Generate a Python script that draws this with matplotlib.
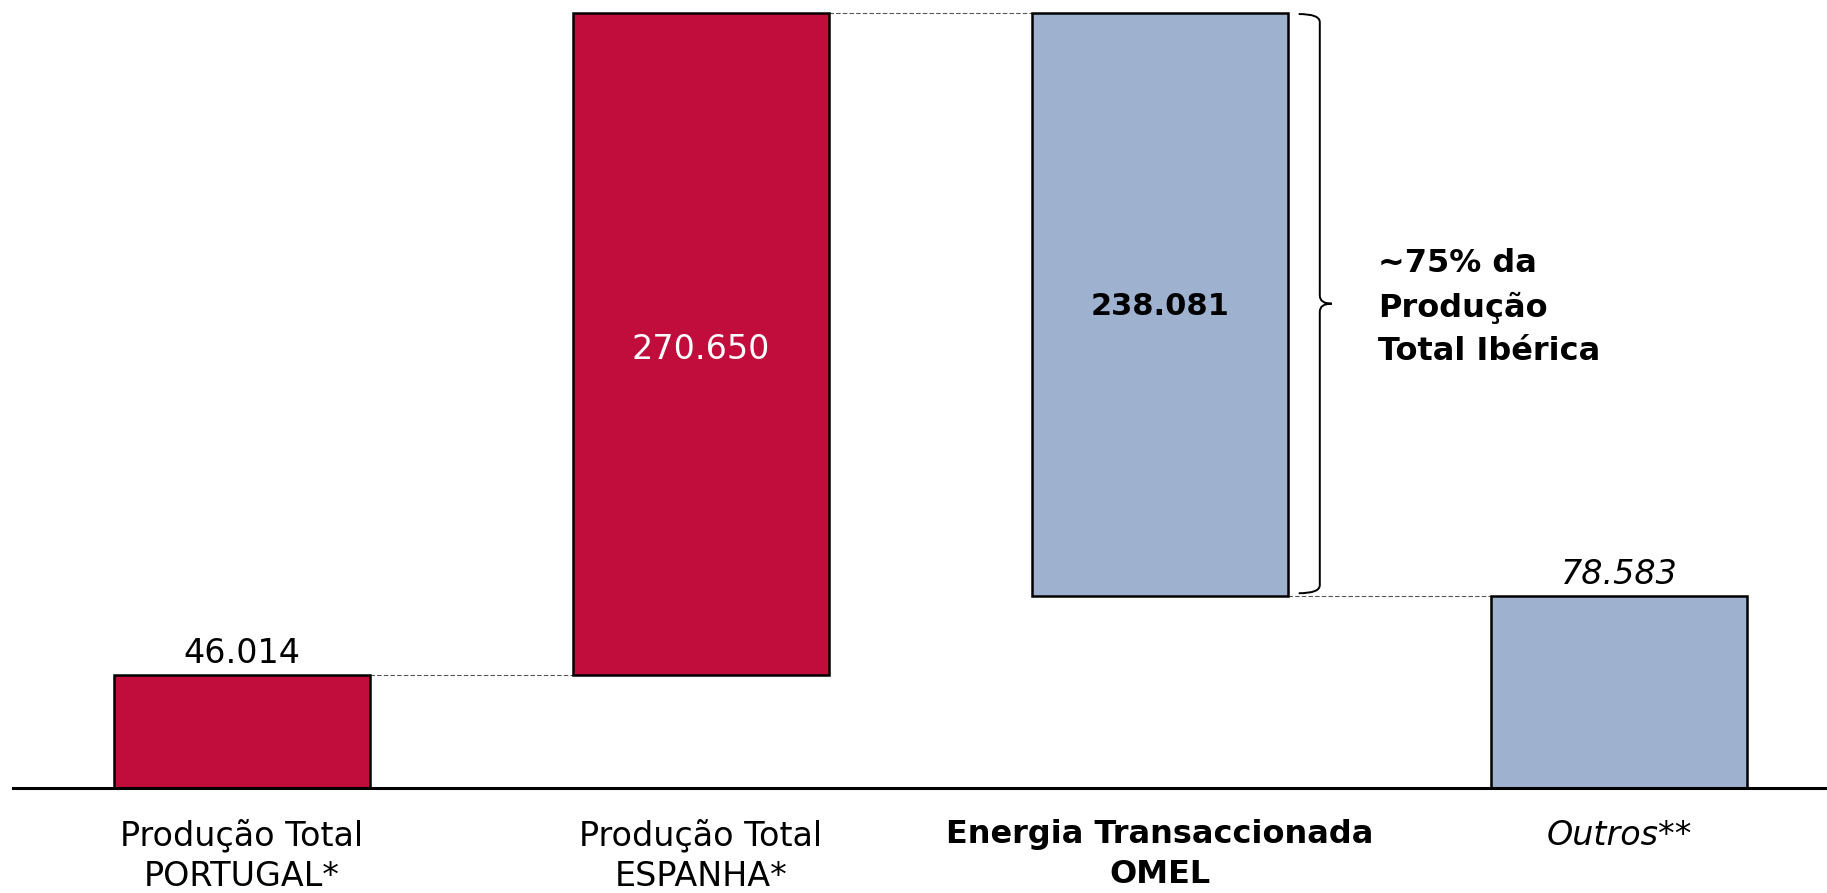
import matplotlib
matplotlib.use("Agg")
import matplotlib.pyplot as plt
from matplotlib.path import Path
from matplotlib.patches import PathPatch

# data (GWh)
categories = ["Produção Total\nPORTUGAL*", "Produção Total\nESPANHA*",
              "Energia Transaccionada\nOMEL", "Outros**"]
values = [46.014, 270.650, 238.081, 78.583]
value_labels = ["46.014", "270.650", "238.081", "78.583"]
note = "~75% da\nProdução\nTotal Ibérica"

RED = "#C00D3C"
BLUE = "#9EB1CF"
colors = [RED, RED, BLUE, BLUE]

plt.rcParams['font.family'] = ['DejaVu Sans']

total = values[0] + values[1]
bottoms = [0, values[0], total - values[2], 0]
tops = [b + v for b, v in zip(bottoms, values)]
xs = list(range(len(values)))
w = 0.556

fig = plt.figure(figsize=(18.27, 8.93), dpi=100)
ax = fig.add_axes([13 / 1827, 105 / 893, 1814 / 1827, 788 / 893])
ax.set_xlim(-0.499, 3.453)
ax.set_ylim(0, 322.0)

ax.bar(xs, values, bottom=bottoms, width=w, color=colors,
       edgecolor="black", linewidth=1.8, zorder=3)

# dashed connectors between bars
levels = [tops[0], tops[1], bottoms[2]]
for i, lvl in enumerate(levels):
    ax.plot([xs[i] + w / 2, xs[i + 1] - w / 2], [lvl, lvl], ls=(0, (4, 2)),
            color="#555555", lw=0.8, zorder=2)

for sp in ["top", "right", "left"]:
    ax.spines[sp].set_visible(False)
ax.spines["bottom"].set_linewidth(2.2)
ax.spines["bottom"].set_zorder(4)
ax.set_xticks([])
ax.set_yticks([])

# value labels
ax.text(xs[0], tops[0] + 2.0, value_labels[0], ha="center", va="bottom",
        fontsize=24)
ax.text(xs[1], (bottoms[1] + tops[1]) / 2 - 2, value_labels[1], ha="center",
        va="center", fontsize=24, color="white")
ax.text(xs[2], (bottoms[2] + tops[2]) / 2 - 1, value_labels[2], ha="center",
        va="center", fontsize=22, fontweight="bold")
ax.text(xs[3], tops[3] + 2.0, value_labels[3], ha="center", va="bottom",
        fontsize=24, style="italic")

# category labels
styles = [dict(fontsize=24, linespacing=1.3), dict(fontsize=24, linespacing=1.3),
          dict(fontsize=23, fontweight="bold", linespacing=1.4),
          dict(fontsize=24, style="italic", linespacing=1.3)]
for x, lab, st in zip(xs, categories, styles):
    ax.text(x, -12.5, lab, ha="center", va="top", clip_on=False, **st)

# curly brace next to the OMEL bar
x0 = xs[2] + w / 2 + 0.024
x1 = x0 + 0.046
xt = x1 + 0.026
yt = tops[2] - 0.4
yb = bottoms[2] + 1.0
ym = (yt + yb) / 2
d = 3.3
verts = [(x0, yt), (x1, yt), (x1, yt - d),
         (x1, ym + d), (x1, ym), (xt, ym),
         (x1, ym), (x1, ym - d),
         (x1, yb + d), (x1, yb), (x0, yb)]
codes = [Path.MOVETO, Path.CURVE3, Path.CURVE3,
         Path.LINETO, Path.CURVE3, Path.CURVE3,
         Path.CURVE3, Path.CURVE3,
         Path.LINETO, Path.CURVE3, Path.CURVE3]
ax.add_patch(PathPatch(Path(verts, codes), fill=False, lw=1.4,
                       edgecolor="black", zorder=3))

ax.text(xt + 0.1, ym - 1.5, note, ha="left", va="center", fontsize=23,
        fontweight="bold", linespacing=1.5)

fig.savefig("out.png", dpi=100)
